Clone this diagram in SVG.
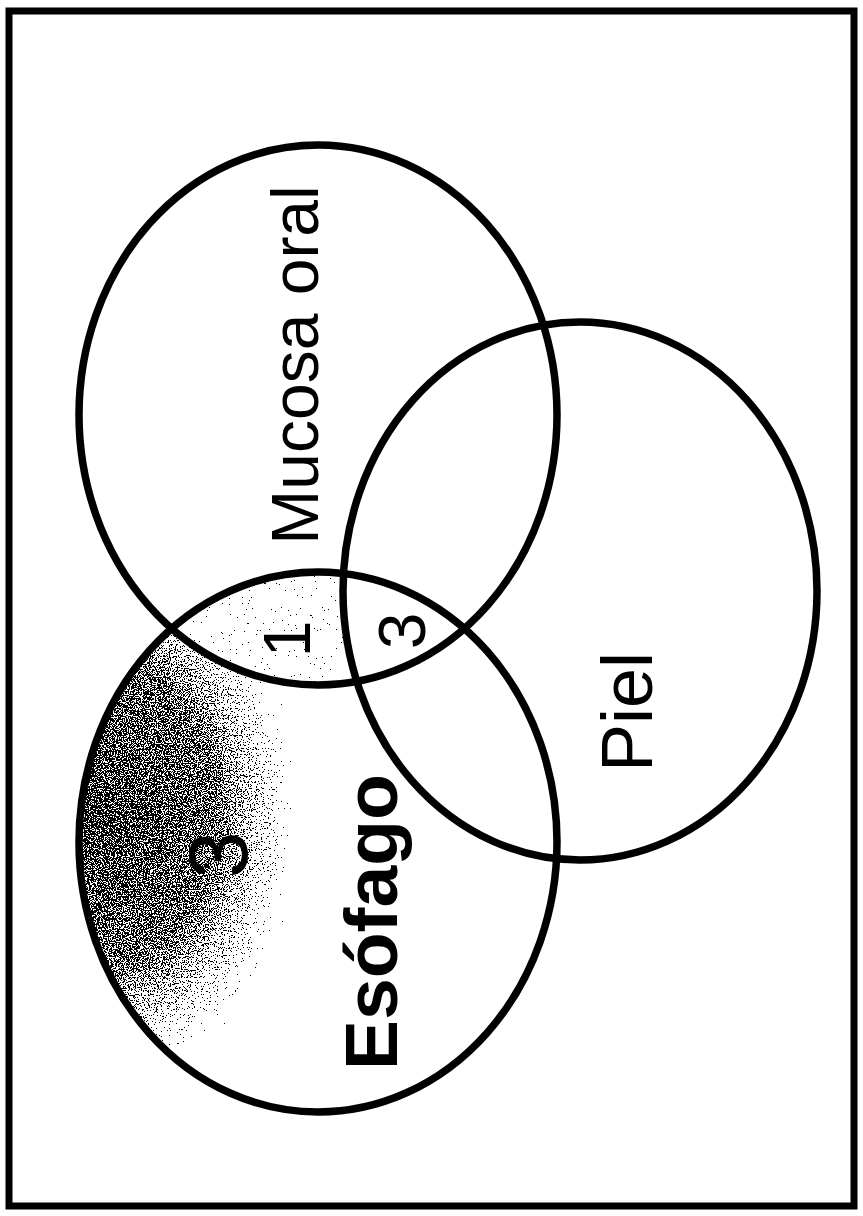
<svg xmlns="http://www.w3.org/2000/svg" width="863" height="1216" viewBox="0 0 863 1216">
<style>
.ring{fill:none;stroke:#000;stroke-width:7.5}
.lbl{font-family:"Liberation Sans",Arial,sans-serif;fill:#000}
</style>
<defs>
<clipPath id="esoClip"><ellipse cx="318" cy="842" rx="239" ry="270"/></clipPath>
<mask id="esoOnly">
<rect x="0" y="0" width="863" height="1216" fill="#fff"/>
<ellipse cx="318" cy="415" rx="239" ry="270" fill="#000"/>
<ellipse cx="580" cy="591" rx="237" ry="269" fill="#000"/>
</mask>
<mask id="oneOnly">
<rect x="0" y="0" width="863" height="1216" fill="#000"/>
<ellipse cx="318" cy="415" rx="239" ry="270" fill="#fff"/>
<ellipse cx="580" cy="591" rx="237" ry="269" fill="#000"/>
</mask>
<radialGradient id="shade" gradientUnits="userSpaceOnUse" cx="110" cy="815" r="215" gradientTransform="translate(110 815) scale(1 1.4) translate(-110 -815)">
<stop offset="0" stop-color="#6c6c6c"/>
<stop offset="0.5" stop-color="#7a7a7a"/>
<stop offset="0.78" stop-color="#b4b4b4"/>
<stop offset="1" stop-color="#fff"/>
</radialGradient>
<filter id="dither" x="0" y="0" width="1" height="1" color-interpolation-filters="sRGB">
<feTurbulence type="fractalNoise" baseFrequency="0.85" numOctaves="2" seed="5" result="n"/>
<feColorMatrix in="n" type="matrix" values="-1 0 0 0 1  -1 0 0 0 1  -1 0 0 0 1  0 0 0 0 1" result="inv"/>
<feComposite in="SourceGraphic" in2="inv" operator="arithmetic" k1="0" k2="1" k3="1" k4="-0.5" result="d"/>
<feComponentTransfer in="d">
<feFuncR type="discrete" tableValues="0 1"/>
<feFuncG type="discrete" tableValues="0 1"/>
<feFuncB type="discrete" tableValues="0 1"/>
<feFuncA type="linear" slope="0" intercept="1"/>
</feComponentTransfer>
</filter>
</defs>
<rect x="9" y="11" width="845" height="1195" fill="#fff" stroke="#000" stroke-width="7"/>
<g id="shading">
<g clip-path="url(#esoClip)" mask="url(#esoOnly)">
<rect x="70" y="560" width="500" height="560" fill="url(#shade)" filter="url(#dither)"/>
</g>
<g clip-path="url(#esoClip)" mask="url(#oneOnly)">
<rect x="150" y="560" width="220" height="140" fill="#c2c2c2" filter="url(#dither)"/>
</g>
</g>
<g id="mucosa-oral">
<ellipse class="ring" cx="318" cy="415" rx="239" ry="270"/>
<text class="lbl" font-size="66" text-anchor="middle" transform="translate(318 365) rotate(-90)">Mucosa oral</text>
</g>
<g id="piel">
<ellipse class="ring" cx="580" cy="591" rx="237" ry="269"/>
<text class="lbl" font-size="72" text-anchor="middle" transform="translate(652 712) rotate(-90)">Piel</text>
</g>
<g id="esofago">
<ellipse class="ring" cx="318" cy="842" rx="239" ry="270"/>
<text class="lbl" font-size="75" font-weight="bold" text-anchor="middle" transform="translate(397 922) rotate(-90)">Esófago</text>
</g>
<g id="counts">
<text class="lbl" font-size="66" text-anchor="middle" transform="translate(310 639) rotate(-90)">1</text>
<text class="lbl" font-size="66" text-anchor="middle" transform="translate(425 631) rotate(-90)">3</text>
<text class="lbl" font-size="84" text-anchor="middle" transform="translate(247 855) rotate(-90)">3</text>
</g>
</svg>
